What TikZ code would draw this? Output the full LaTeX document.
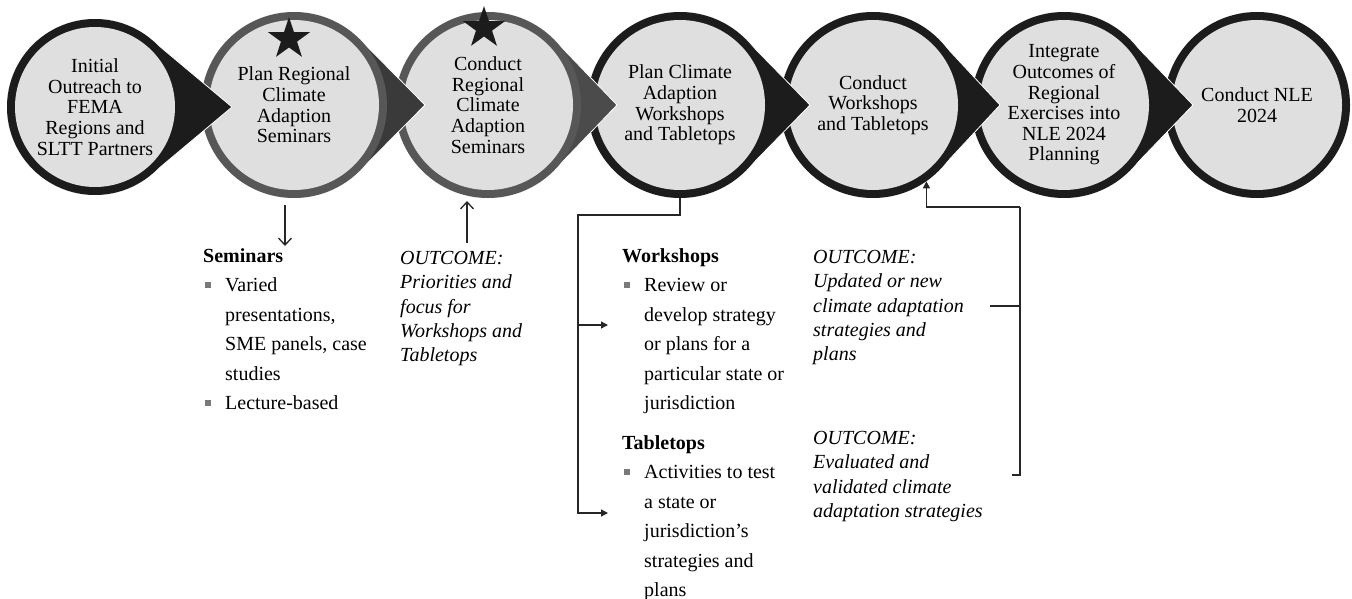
\documentclass[tikz,border=0pt]{standalone}
\usepackage{fontspec}
\setmainfont{Liberation Serif}
\usetikzlibrary{shapes.geometric,arrows.meta}

\definecolor{ringdark}{HTML}{1C1C1C}
\definecolor{ringgray}{HTML}{575757}
\definecolor{wedgegray}{HTML}{3A3A3A}
\definecolor{wedgemid}{HTML}{4B4B4B}
\definecolor{discfill}{HTML}{DFDFDF}
\definecolor{bulletgray}{HTML}{7A7A7A}
\definecolor{linkgray}{HTML}{262626}

% square bullet and hanging indent for the lists
\newcommand{\itm}{\hspace*{2pt}\textcolor{bulletgray}{\rule[4pt]{6pt}{6pt}}\hspace{14pt}}
\newcommand{\ind}{\hspace*{22pt}}

\begin{document}
\begin{tikzpicture}[x=1pt,y=1pt,
	stage/.style={circle,minimum size=186pt,inner sep=0pt,align=center,font=\fontsize{20}{20.6}\selectfont},
	listtext/.style={anchor=north west,inner sep=0pt,align=left,font=\fontsize{20}{29.5}\selectfont},
	outtext/.style={anchor=north west,inner sep=0pt,align=left,font=\fontsize{20}{24.3}\selectfont\itshape},
	link/.style={draw=linkgray,line width=1.3pt},
	tip/.style={-{Triangle[length=7pt,width=7pt]}},
	barb/.style={-{Straight Barb[length=7pt,width=13pt]}}]

	\useasboundingbox (0,0) rectangle (1352,-599);

	% teardrops, right to left so every tip lies over the next disc
	\foreach \cx/\cy/\r/\d/\rc/\wc in {1257/-105/93/93/ringdark/ringdark,
		1064/-105/93/129/ringdark/ringdark, 873/-105/93/127/ringdark/ringdark,
		680/-105/93/130/ringdark/ringdark, 488/-105/93/129/ringgray/wedgemid,
		294/-105/93/131/ringgray/wedgegray, 95/-107/88/137/ringdark/ringdark}
	{
		\pgfmathsetmacro\tang{acos(\r/\d)}
		\filldraw[fill=\wc,draw=white,line width=0.8pt] (\cx,\cy) ++(\tang:\r) arc[start angle=\tang,end angle=360-\tang,radius=\r] -- ({\cx+\d},\cy) -- cycle;
		\fill[\rc] (\cx,\cy) circle[radius=\r];
		\fill[discfill] (\cx,\cy) circle[radius=\r-8];
	}

	\node[stage,minimum size=176pt] (c1) at (95,-107) {Initial\\Outreach to\\FEMA\\Regions and\\SLTT Partners};
	\node[stage] (c2) at (294,-105) {Plan Regional\\Climate\\Adaption\\Seminars};
	\node[stage] (c3) at (488,-105) {Conduct\\Regional\\Climate\\Adaption\\Seminars};
	\node[stage] (c4) at (680,-105) {Plan Climate\\Adaption\\Workshops\\and Tabletops};
	\node[stage] (c5) at (873,-105) {Conduct\\Workshops\\and Tabletops};
	\node[stage] (c6) at (1064,-105) {Integrate\\Outcomes of\\Regional\\Exercises into\\NLE 2024\\Planning};
	\node[stage] (c7) at (1257,-105) {Conduct NLE\\2024};

	\node[star,star points=5,star point ratio=2.6,fill=ringdark,minimum size=44pt,inner sep=0pt] (star2) at (289,-39) {};
	\node[star,star points=5,star point ratio=2.6,fill=ringdark,minimum size=44pt,inner sep=0pt] (star3) at (484,-28) {};

	% lists and outcomes under the discs
	\node[listtext] (sem) at (203,-248) {\textbf{Seminars}\\\itm Varied\\\ind presentations,\\\ind SME panels, case\\\ind studies\\\itm Lecture-based};
	\node[outtext] (outA) at (400,-251) {OUTCOME:\\Priorities and\\focus for\\Workshops and\\Tabletops};
	\node[listtext] (wk) at (622,-248) {\textbf{Workshops}\\\itm Review or\\\ind develop strategy\\\ind or plans for a\\\ind particular state or\\\ind jurisdiction};
	\node[listtext] (tb) at (622,-435) {\textbf{Tabletops}\\\itm Activities to test\\\ind a state or\\\ind jurisdiction’s\\\ind strategies and\\\ind plans};
	\node[outtext] (outB) at (813,-250) {OUTCOME:\\Updated or new\\climate adaptation\\strategies and\\plans};
	\node[outtext] (outC) at (813,-431) {OUTCOME:\\Evaluated and\\validated climate\\adaptation strategies};

	\coordinate (semfrom) at (285,-205);
	\coordinate (semto) at (285,-246);
	\coordinate (outAfrom) at (467,-243);
	\coordinate (outAto) at (467,-201);
	\coordinate (wkrail) at (578,-215);
	\coordinate (wkin) at (608,-325);
	\coordinate (tbin) at (608,-513);
	\coordinate (outrail) at (1020,-207);
	\coordinate (bkB) at (990,-306);
	\coordinate (bkC) at (1012,-475);

	\draw[link,barb] (semfrom) -- (semto);
	\draw[link,barb] (outAfrom) -- (outAto);
	\draw[link,tip] (c4.south) |- (wkrail) |- (wkin);
	\draw[link,tip] (wkrail) |- (tbin);
	\draw[link,tip] (outrail) -| (c5.-55);
	\draw[link] (bkC) -| (outrail);
	\draw[link] (bkB) -- (bkB -| outrail);

\end{tikzpicture}
\end{document}
